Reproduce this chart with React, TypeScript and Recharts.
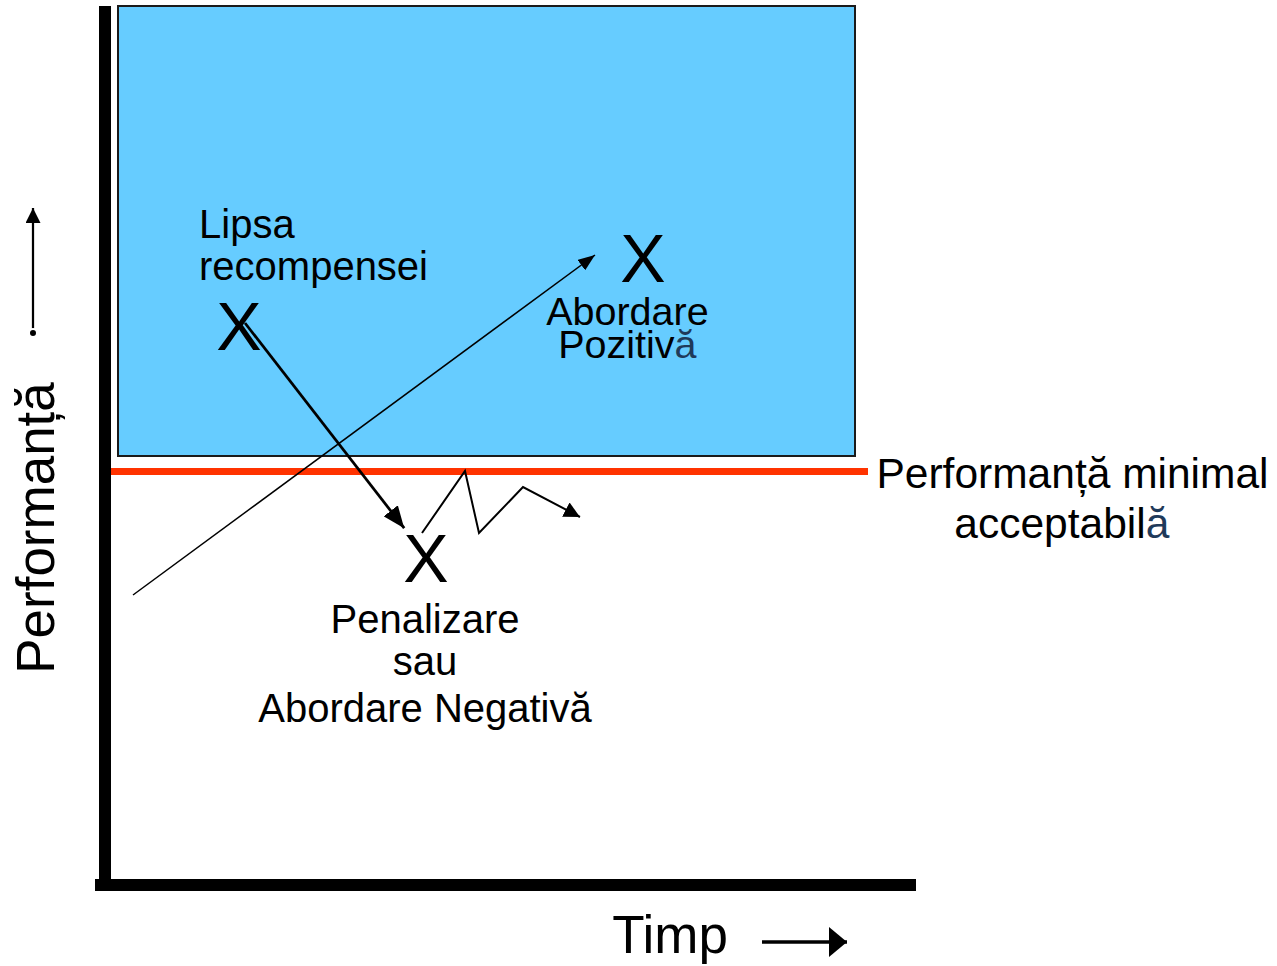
import React from 'react';
import { ComposedChart, XAxis, YAxis, Line, Scatter, ReferenceArea, ReferenceLine } from 'recharts';

// Chart units: time 0..100 along the horizontal axis, performance 0..100 up the vertical axis.
const X_DOMAIN: [number, number] = [-13.125, 146.5];
const Y_DOMAIN: [number, number] = [-10.125, 110.625];

// Zone of acceptable performance (blue box)
const comfortZoneX = [1.625, 93.75];
const comfortZoneY = [53.625, 109.875];

// Minimum acceptable performance threshold
const thresholdY = 51.7;
const thresholdX = [0.75, 95.375];

// Axis bars
const verticalAxisY = [-0.75, 109.875];
const horizontalAxisX = [-1.25, 101.375];

// Arrows
const positiveArrow = [
  { x: 3.5, y: 36.25 },
  { x: 61.25, y: 78.75 },
];
const negativeArrow = [
  { x: 17.5, y: 70.25 },
  { x: 37.4, y: 44.6 },
];
const recoveryPath = [
  { x: 39.625, y: 44 },
  { x: 45, y: 51.75 },
  { x: 46.75, y: 44 },
  { x: 52.25, y: 49.75 },
  { x: 59.375, y: 46 },
];
const performanceArrow = [
  { x: -9, y: 69.0 },
  { x: -9, y: 84.625 },
];
const timeArrow = [
  { x: 82.125, y: -7.125 },
  { x: 92.75, y: -7.125 },
];

// Texts
const lackOfRewardLines = [
  { x: 11.75, y: 80.875, text: 'Lipsa', tail: '' },
  { x: 11.75, y: 75.625, text: 'recompensei', tail: '' },
];
const xMarks = [
  { x: 16.75, y: 66.9, text: 'X', tail: '' },
  { x: 67.25, y: 75.375, text: 'X', tail: '' },
  { x: 40.125, y: 37.875, text: 'X', tail: '' },
];
const positiveLines = [
  { x: 65.3, y: 70, text: 'Abordare', tail: '' },
  { x: 65.3, y: 65.875, text: 'Pozitiv', tail: 'ă' },
];
const negativeLines = [
  { x: 40, y: 31.5, text: 'Penalizare', tail: '' },
  { x: 40, y: 26.25, text: 'sau', tail: '' },
  { x: 40, y: 20.375, text: 'Abordare Negativă', tail: '' },
];
const thresholdLines = [
  { x: 120.94, y: 49.625, text: 'Performanță minimal', tail: '' },
  { x: 119.6, y: 43.375, text: 'acceptabil', tail: 'ă' },
];
const yTitle = [{ x: -6.4, y: 44.625, text: 'Performanță', tail: '' }];
const xTitle = [{ x: 63.4, y: -8.5, text: 'Timp', tail: '' }];

const FONT = '"Liberation Sans", Arial, Helvetica, sans-serif';
const ACCENT = '#1f3a5a';

function textShape(fontSize: number, anchor: 'start' | 'middle' | 'end', rotate = 0) {
  return (props: any) => {
    const { cx, cy, payload } = props;
    if (cx == null || cy == null) return <g />;
    return (
      <text
        x={cx}
        y={cy}
        fontSize={fontSize}
        fontFamily={FONT}
        fill="#000"
        textAnchor={anchor}
        transform={rotate ? `rotate(${rotate}, ${cx}, ${cy})` : undefined}
      >
        {payload.text}
        {payload.tail ? <tspan fill={ACCENT}>{payload.tail}</tspan> : null}
      </text>
    );
  };
}

function ArrowDefs() {
  const head = (id: string, len: number, wid: number) => (
    <marker
      id={id}
      markerUnits="userSpaceOnUse"
      markerWidth={len}
      markerHeight={wid}
      viewBox={`0 0 ${len} ${wid}`}
      refX={len}
      refY={wid / 2}
      orient="auto"
    >
      <path d={`M0,0 L${len},${wid / 2} L0,${wid} Z`} fill="#000" />
    </marker>
  );
  return (
    <svg width={0} height={0} style={{ position: 'absolute', left: 0, top: 0 }}>
      <defs>
        {head('ah-thin', 17, 13)}
        {head('ah-thick', 22, 18)}
        {head('ah-zig', 16, 16)}
        {head('ah-perf', 15, 15)}
        {head('ah-time', 18, 30)}
      </defs>
    </svg>
  );
}

export default function App() {
  return (
    <div style={{ position: 'absolute', left: 0, top: 0, width: 1277, height: 966, background: '#fff' }}>
      <ArrowDefs />
      <ComposedChart width={1277} height={966} margin={{ top: 0, right: 0, bottom: 0, left: 0 }}>
        <XAxis type="number" dataKey="x" domain={X_DOMAIN} allowDataOverflow hide />
        <YAxis type="number" dataKey="y" domain={Y_DOMAIN} allowDataOverflow hide />

        <ReferenceArea
          x1={comfortZoneX[0]}
          x2={comfortZoneX[1]}
          y1={comfortZoneY[0]}
          y2={comfortZoneY[1]}
          fill="#66ccff"
          fillOpacity={1}
          stroke="#1a1a1a"
          strokeWidth={2}
          ifOverflow="visible"
        />
        <ReferenceLine
          segment={[
            { x: thresholdX[0], y: thresholdY },
            { x: thresholdX[1], y: thresholdY },
          ]}
          stroke="#ff3300"
          strokeWidth={7}
          ifOverflow="visible"
        />
        <ReferenceLine
          segment={[
            { x: 0, y: verticalAxisY[0] },
            { x: 0, y: verticalAxisY[1] },
          ]}
          stroke="#000"
          strokeWidth={12}
          ifOverflow="visible"
        />
        <ReferenceLine
          segment={[
            { x: horizontalAxisX[0], y: 0 },
            { x: horizontalAxisX[1], y: 0 },
          ]}
          stroke="#000"
          strokeWidth={12}
          ifOverflow="visible"
        />

        <Line data={positiveArrow} dataKey="y" type="linear" stroke="#000" strokeWidth={1.5} dot={false} isAnimationActive={false} markerEnd="url(#ah-thin)" />
        <Line data={negativeArrow} dataKey="y" type="linear" stroke="#000" strokeWidth={2.75} dot={false} isAnimationActive={false} markerEnd="url(#ah-thick)" />
        <Line data={recoveryPath} dataKey="y" type="linear" stroke="#000" strokeWidth={2} dot={false} isAnimationActive={false} markerEnd="url(#ah-zig)" />
        <Line data={performanceArrow} dataKey="y" type="linear" stroke="#000" strokeWidth={2.25} dot={false} isAnimationActive={false} markerEnd="url(#ah-perf)" />
        <Line data={timeArrow} dataKey="y" type="linear" stroke="#000" strokeWidth={3.5} dot={false} isAnimationActive={false} markerEnd="url(#ah-time)" />

        <Scatter data={lackOfRewardLines} shape={textShape(40, 'start')} isAnimationActive={false} />
        <Scatter data={xMarks} shape={textShape(68, 'middle')} isAnimationActive={false} />
        <Scatter data={positiveLines} shape={textShape(39.5, 'middle')} isAnimationActive={false} />
        <Scatter data={negativeLines} shape={textShape(40, 'middle')} isAnimationActive={false} />
        <Scatter data={thresholdLines} shape={textShape(42.5, 'middle')} isAnimationActive={false} />
        <Scatter data={yTitle} shape={textShape(53, 'middle', -90)} isAnimationActive={false} />
        <Scatter data={xTitle} shape={textShape(53, 'start')} isAnimationActive={false} />
      </ComposedChart>
    </div>
  );
}
